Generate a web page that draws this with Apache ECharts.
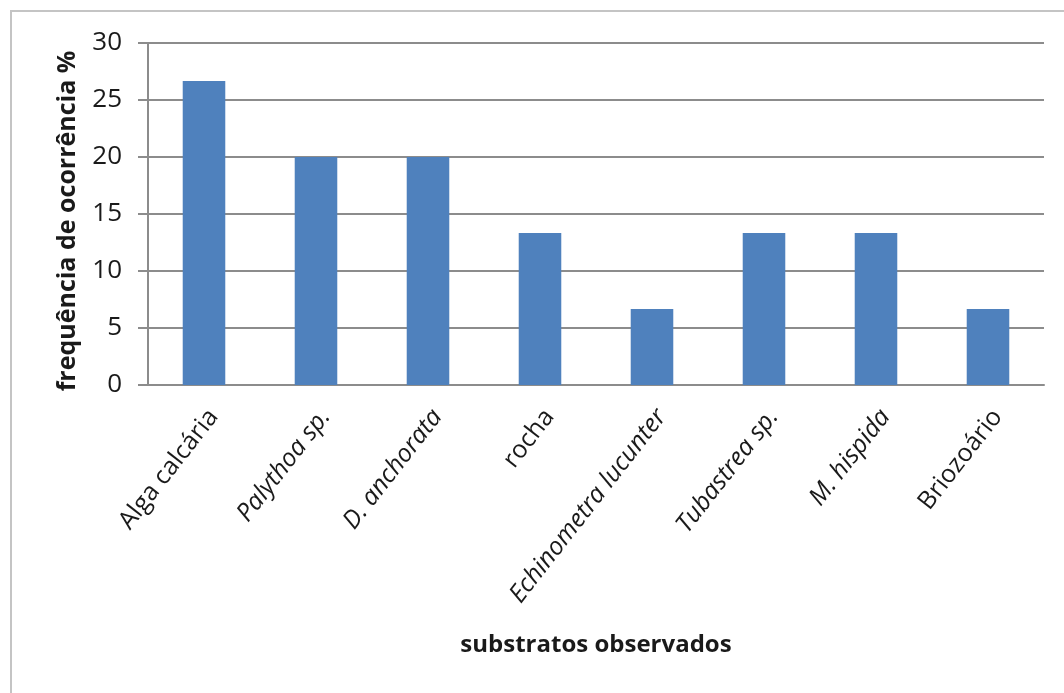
<!DOCTYPE html>
<html>
<head>
<meta charset="utf-8">
<script src="https://cdn.jsdelivr.net/npm/echarts@6/dist/echarts.min.js"></script>
<style>html,body{margin:0;padding:0;background:#fff}#c{width:1064px;height:693px}</style>
</head>
<body>
<div id="c"></div>
<script>
const categories = ['Alga calcária','Palythoa sp.','D. anchorata','rocha','Echinometra lucunter','Tubastrea sp.','M. hispida','Briozoário'];
const italicFlags = [false,true,true,false,true,true,true,false];
const values = [26.67,20,20,13.33,6.67,13.33,13.33,6.67];
const yTicks = [0,5,10,15,20,25,30];

const chart = echarts.init(document.getElementById('c'));
const FONT = '"Open Sans", sans-serif';
chart.setOption({
  animation:false,
  graphic:[{type:'rect',shape:{x:11,y:11,width:1200,height:1000},style:{fill:'none',stroke:'#c4c4c4',lineWidth:2},z:-1}],
  grid:{left:148,right:20,top:43,bottom:308},
  xAxis:{
    type:'category',data:categories,
    axisLine:{lineStyle:{color:'#8c8c8c',width:2}},
    axisTick:{show:false},
    axisLabel:{rotate:52,margin:20,fontSize:25,color:'#1a1a1a',fontFamily:FONT,interval:0,
      padding:[24,0,0,0],
      formatter:function(v,i){return italicFlags[i]?'{i|'+v+'}':v;},
      rich:{i:{fontStyle:'italic',fontSize:25,color:'#1a1a1a',fontFamily:FONT}}},
    name:'substratos observados',nameLocation:'middle',nameGap:248,
    nameTextStyle:{fontSize:24,fontWeight:'bold',color:'#1a1a1a',fontFamily:FONT}
  },
  yAxis:{
    type:'value',min:0,max:30,interval:5,
    axisLine:{show:true,lineStyle:{color:'#8c8c8c',width:2}},
    axisTick:{show:true,length:10,lineStyle:{color:'#8c8c8c',width:2}},
    splitLine:{lineStyle:{color:'#8c8c8c',width:2}},
    axisLabel:{fontSize:26,color:'#1a1a1a',fontFamily:FONT,margin:26,
      formatter:function(v){return yTicks.indexOf(v)>=0?String(v):'';}},
    name:'frequência de ocorrência %',nameLocation:'middle',nameGap:68,
    nameTextStyle:{fontSize:25,fontWeight:'bold',color:'#1a1a1a',fontFamily:FONT,padding:[0,14,0,0]}
  },
  series:[{type:'bar',data:values,barWidth:'38%',itemStyle:{color:'#4F81BD'}}]
});
</script>
</body>
</html>
